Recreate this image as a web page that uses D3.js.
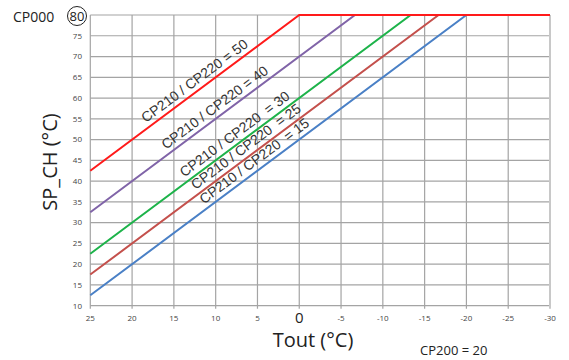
<!DOCTYPE html>
<html>
<head>
<meta charset="utf-8">
<script src="https://cdn.jsdelivr.net/npm/d3@7"></script>
<style>
  body { margin: 0; background: #fff; }
  svg { display: block; }
</style>
</head>
<body>
<svg id="chart" width="569" height="360"></svg>
<script>
// ---- data ----
const xTicks = [25, 20, 15, 10, 5, 0, -5, -10, -15, -20, -25, -30];
const yTicks = [10, 15, 20, 25, 30, 35, 40, 45, 50, 55, 60, 65, 70, 75, 80];
const seriesLabels = ["CP210 / CP220 = 50", "CP210 / CP220 = 40", "CP210 / CP220  = 30", "CP210 / CP220  = 25", "CP210 / CP220  = 15"];
const seriesColors = ["#ff1a1a", "#8064a8", "#1db34a", "#c4504c", "#4a80c6"];
const startTout = 25;
const startValues = [42.5, 32.5, 22.5, 17.5, 12.5];
const breakTout = [0, -6.67, -13.33, -16.67, -20];
const maxValue = 80;
const endTout = -30;
const labelTout = [18.0, 15.6, 13.4, 12.05, 11.05];
const drawOrder = [4, 3, 2, 1, 0];

const svg = d3.select("#chart");
const x = d3.scaleLinear().domain([25, -30]).range([90.3, 550]);
const y = d3.scaleLinear().domain([10, 80]).range([305.7, 15]);

const gridColor = "#a4a4a4";
// horizontal grid
svg.append("g").selectAll("line").data(yTicks).join("line")
  .attr("x1", x(25)).attr("x2", x(-30))
  .attr("y1", d => y(d)).attr("y2", d => y(d))
  .attr("stroke", gridColor).attr("stroke-width", 1.2);
// vertical grid
svg.append("g").selectAll("line").data(xTicks).join("line")
  .attr("x1", d => x(d)).attr("x2", d => x(d))
  .attr("y1", y(80)).attr("y2", y(10) + 3)
  .attr("stroke", d => d === -30 ? "#c8c8c8" : gridColor)
  .attr("stroke-width", d => d === -30 ? 2 : 1.2);

// y tick labels
svg.append("g").selectAll("text").data(yTicks.filter(d => d !== 80)).join("text")
  .attr("x", 82).attr("y", d => y(d)).attr("dy", "0.35em")
  .attr("text-anchor", "end")
  .attr("font-family", "Open Sans, sans-serif").attr("font-size", 8)
  .attr("fill", "#444").text(d => d);

// x tick labels
svg.append("g").selectAll("text").data(xTicks.filter(d => d !== 0)).join("text")
  .attr("x", d => x(d)).attr("y", 318).attr("dy", "0.35em")
  .attr("text-anchor", "middle")
  .attr("font-family", "Open Sans, sans-serif").attr("font-size", 8)
  .attr("fill", "#444").text(d => d);
svg.append("text").attr("x", x(0)).attr("y", 318).attr("dy", "0.35em")
  .attr("text-anchor", "middle")
  .attr("font-family", "Open Sans, sans-serif").attr("font-size", 15)
  .attr("fill", "#222").text("0");

// series lines
const line = d3.line().x(d => x(d[0])).y(d => y(d[1]));
drawOrder.forEach(i => {
  const pts = [[startTout, startValues[i]], [breakTout[i], maxValue], [endTout, maxValue]];
  svg.append("path").attr("d", line(pts))
    .attr("fill", "none").attr("stroke", seriesColors[i]).attr("stroke-width", 2);
});

// line labels
const slope = (maxValue - startValues[0]) / (startTout - breakTout[0]);
const angle = Math.atan2(y(0) - y(slope * 1), x(0) - x(1)) * 180 / Math.PI;
seriesLabels.forEach((lab, i) => {
  const t = labelTout[i];
  const v = startValues[i] + slope * (startTout - t);
  svg.append("text")
    .attr("transform", `translate(${x(t)},${y(v)}) rotate(${-angle}) translate(0,-5)`)
    .attr("font-family", "Liberation Sans, Arial, sans-serif").attr("font-size", 14)
    .attr("fill", "#333").style("white-space", "pre").text(lab);
});

// axis titles
svg.append("text").attr("transform", `translate(57,162) rotate(-90)`)
  .attr("text-anchor", "middle")
  .attr("font-family", "Open Sans, sans-serif").attr("font-size", 20)
  .attr("fill", "#222").text("SP_CH (°C)");
svg.append("text").attr("x", 313).attr("y", 347)
  .attr("text-anchor", "middle")
  .attr("font-family", "Open Sans, sans-serif").attr("font-size", 20)
  .attr("fill", "#222").text("Tout (°C)");
svg.append("text").attr("x", 420).attr("y", 355)
  .attr("font-family", "Open Sans, sans-serif").attr("font-size", 13)
  .attr("fill", "#222").text("CP200 = 20");
svg.append("text").attr("x", 13).attr("y", 22)
  .attr("font-family", "Open Sans, sans-serif").attr("font-size", 14)
  .attr("fill", "#222").text("CP000");
svg.append("circle").attr("cx", 77).attr("cy", 16).attr("r", 9.5)
  .attr("fill", "#fff").attr("stroke", "#222").attr("stroke-width", 1);
svg.append("text").attr("x", 77).attr("y", 16).attr("dy", "0.36em")
  .attr("text-anchor", "middle")
  .attr("font-family", "Open Sans, sans-serif").attr("font-size", 13)
  .attr("fill", "#222").text("80");
</script>
</body>
</html>
